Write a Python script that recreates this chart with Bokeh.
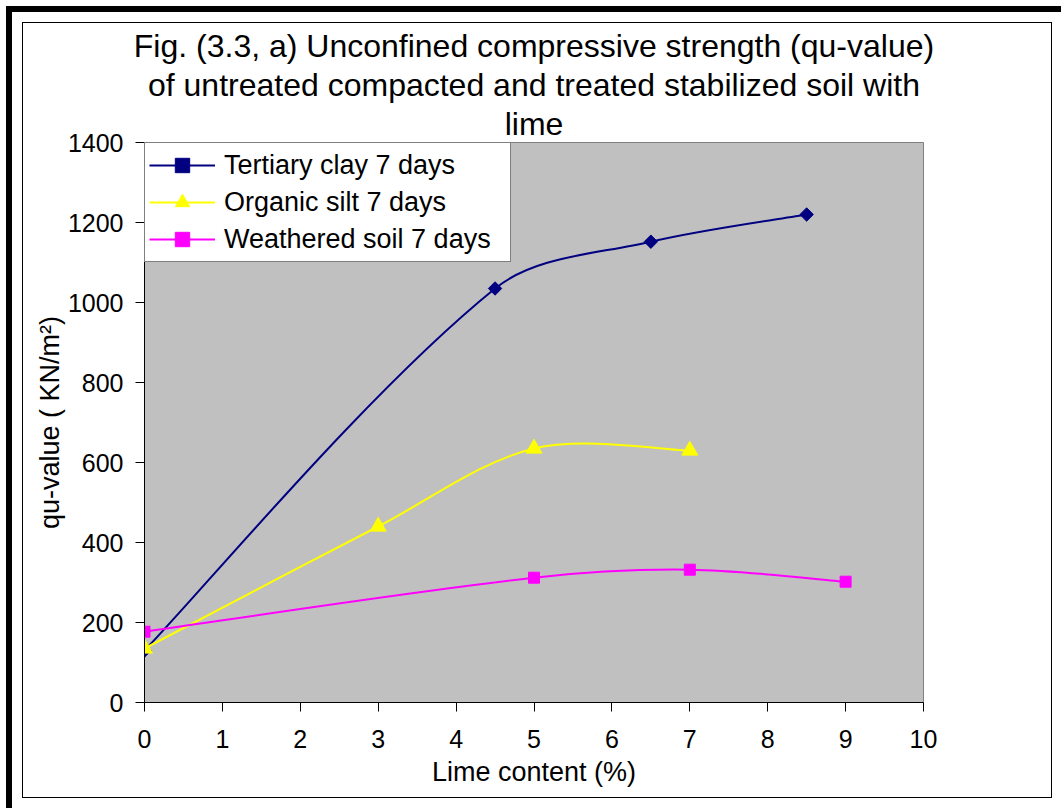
import numpy as np
from bokeh.plotting import figure
from bokeh.models import Range1d, Title, Legend, LegendItem, FixedTicker
from bokeh.embed import file_html
from bokeh.resources import INLINE

# Lime content (%) and unconfined compressive strength qu (kN/m2), 7 days curing
tertiary_x = [0, 4.5, 6.5, 8.5]
tertiary_y = [130, 1035, 1152, 1220]
organic_x = [0, 3, 5, 7]
organic_y = [135, 440, 635, 630]
weathered_x = [0, 5, 7, 9]
weathered_y = [177, 312, 332, 302]

x_ticks = list(range(0, 11))
y_ticks = list(range(0, 1401, 200))

FONT = "Liberation Sans"
W, H = 1061, 808
LEFT, RIGHT, TOP, BOTTOM = 144, 138, 142, 106
X_MAX, Y_MAX = 10, 1400

# pixels per data unit, used to weight the curve smoothing in screen space
PX_X = (W - LEFT - RIGHT) / X_MAX
PX_Y = (H - TOP - BOTTOM) / Y_MAX


def smooth_segments(xs, ys):
    """Cubic Bezier control points for a smoothed line through the points,
    with tangents scaled by the neighbouring segment lengths on screen."""
    x = np.asarray(xs, float)
    y = np.asarray(ys, float)
    n = len(x)
    d = np.hypot(np.diff(x) * PX_X, np.diff(y) * PX_Y)

    def tangent(i):
        if i == 0:
            return np.array([x[1] - x[0], y[1] - y[0]]) * 0.5, None, d[0]
        if i == n - 1:
            return np.array([x[-1] - x[-2], y[-1] - y[-2]]) * 0.5, d[-1], None
        return np.array([x[i + 1] - x[i - 1], y[i + 1] - y[i - 1]]), d[i - 1], d[i]

    out = {k: [] for k in ("x0", "y0", "x1", "y1", "cx0", "cy0", "cx1", "cy1")}
    for i in range(n - 1):
        t0, a0, b0 = tangent(i)
        t1, a1, b1 = tangent(i + 1)
        w0 = 1.0 if a0 is None else b0 / (a0 + b0)
        w1 = 1.0 if b1 is None else a1 / (a1 + b1)
        c0 = np.array([x[i], y[i]]) + t0 * w0 / 3
        c1 = np.array([x[i + 1], y[i + 1]]) - t1 * w1 / 3
        out["x0"].append(x[i]); out["y0"].append(y[i])
        out["x1"].append(x[i + 1]); out["y1"].append(y[i + 1])
        out["cx0"].append(c0[0]); out["cy0"].append(c0[1])
        out["cx1"].append(c1[0]); out["cy1"].append(c1[1])
    return out


# page frame: heavy black band on top/left and a thin rule around the chart
bands = [
    ("6px 6px", "6px 802px"),
    ("6px 6px", "1055px 6px"),
    ("22px 22px", "1px 776px"),
    ("1051px 22px", "1px 776px"),
    ("22px 22px", "1030px 1px"),
    ("22px 797px", "1030px 1px"),
]
page_styles = {
    "background-color": "white",
    "background-image": ", ".join(["linear-gradient(#000, #000)"] * len(bands)),
    "background-position": ", ".join(b[0] for b in bands),
    "background-size": ", ".join(b[1] for b in bands),
    "background-repeat": "no-repeat",
}

p = figure(width=W, height=H, output_backend="svg", toolbar_location=None,
           x_range=Range1d(0, X_MAX), y_range=Range1d(0, Y_MAX),
           min_border_left=LEFT, min_border_right=RIGHT,
           min_border_top=TOP, min_border_bottom=BOTTOM)
p.styles = page_styles
p.border_fill_alpha = 0
p.background_fill_color = "#C0C0C0"
p.outline_line_color = "#808080"
p.outline_line_width = 1
p.grid.visible = False

for ax in (p.xaxis[0], p.yaxis[0]):
    ax.axis_line_color = "black"
    ax.axis_line_width = 1
    ax.major_tick_line_color = "black"
    ax.major_tick_in = 0
    ax.major_tick_out = 9
    ax.minor_tick_line_color = None
    ax.major_label_text_font = FONT
    ax.major_label_text_font_size = "25px"
    ax.major_label_text_color = "black"
    ax.axis_label_text_font = FONT
    ax.axis_label_text_font_size = "27px"
    ax.axis_label_text_font_style = "normal"
    ax.axis_label_text_color = "black"
p.xaxis[0].ticker = FixedTicker(ticks=x_ticks)
p.yaxis[0].ticker = FixedTicker(ticks=y_ticks)
p.xaxis[0].major_label_standoff = 18
p.yaxis[0].major_label_standoff = 12
p.xaxis[0].axis_label = "Lime content (%)"
p.yaxis[0].axis_label = "qu-value ( KN/m²)"
p.xaxis[0].axis_label_standoff = 6
p.yaxis[0].axis_label_standoff = 0

series = [
    ("Tertiary clay 7 days", tertiary_x, tertiary_y, "#000080",
     dict(marker="square", size=9.5, angle=np.pi / 4)),
    ("Organic silt 7 days", organic_x, organic_y, "#FFFF00",
     dict(marker="triangle", size=16)),
    ("Weathered soil 7 days", weathered_x, weathered_y, "#FF00FF",
     dict(marker="square", size=11)),
]

items = []
for name, xs, ys, color, mk in series:
    seg = smooth_segments(xs, ys)
    r_line = p.bezier(x0="x0", y0="y0", x1="x1", y1="y1", cx0="cx0", cy0="cy0",
                      cx1="cx1", cy1="cy1", source=seg, line_color=color, line_width=2)
    r_pts = p.scatter(xs, ys, fill_color=color, line_color=color, line_width=1, **mk)
    items.append(LegendItem(label=name, renderers=[r_line, r_pts]))

legend = Legend(items=items, location="top_left", margin=0, padding=4,
                spacing=1, glyph_height=36, label_height=36, glyph_width=66,
                label_standoff=9, label_width=282,
                label_text_font=FONT, label_text_font_size="27px",
                label_text_color="black",
                border_line_color="black", border_line_width=1,
                background_fill_color="white", background_fill_alpha=1)
p.add_layout(legend)

# three-line title, nearest line to the plot added first
title_lines = [
    "Fig. (3.3, a) Unconfined compressive strength (qu-value)",
    "of untreated compacted and treated stabilized soil with",
    "lime",
]
for line in reversed(title_lines):
    p.add_layout(Title(text=line, align="center", text_font=FONT,
                       text_font_size="32px", text_font_style="normal",
                       text_color="black", standoff=1), "above")

open("out.html", "w").write(file_html(p, INLINE))
